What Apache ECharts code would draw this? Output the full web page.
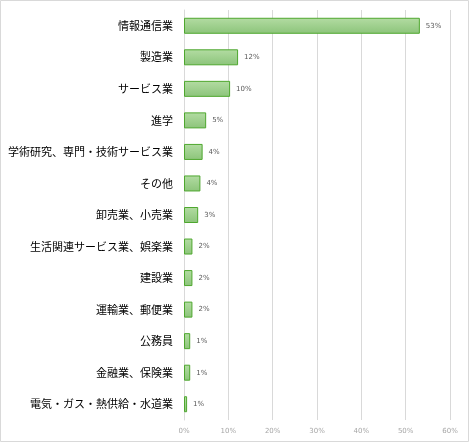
<!DOCTYPE html>
<html>
<head>
<meta charset="utf-8">
<script src="https://cdn.jsdelivr.net/npm/echarts@6/dist/echarts.min.js"></script>
<style>
html,body{margin:0;padding:0;background:#fff;}
#chart{width:469px;height:442px;}
</style>
</head>
<body>
<div id="chart"></div>
<script>
const categories = ['情報通信業','製造業','サービス業','進学','学術研究、専門・技術サービス業','その他','卸売業、小売業','生活関連サービス業、娯楽業','建設業','運輸業、郵便業','公務員','金融業、保険業','電気・ガス・熱供給・水道業'];
const values = [53.2, 12.2, 10.4, 5.0, 4.2, 3.7, 3.2, 1.9, 1.9, 1.9, 1.4, 1.4, 0.7];
const valueLabels = ['53%','12%','10%','5%','4%','4%','3%','2%','2%','2%','1%','1%','1%'];
const xTicks = [0, 10, 20, 30, 40, 50, 60];

const chart = echarts.init(document.getElementById('chart'), null, {renderer: 'canvas'});
chart.setOption({
  animation: false,
  backgroundColor: '#fff',
  graphic: [{
    type: 'rect', silent: true, z: -1,
    shape: {x: 0.5, y: 0.5, width: 468, height: 441},
    style: {fill: 'none', stroke: '#d9d9d9', lineWidth: 1}
  }],
  grid: {left: 184, right: 19, top: 10, bottom: 22, containLabel: false},
  xAxis: {
    type: 'value',
    min: xTicks[0], max: xTicks[xTicks.length - 1], interval: 10,
    axisLine: {show: false},
    axisTick: {show: false},
    splitLine: {show: true, lineStyle: {color: '#d9d9d9', width: 1}},
    axisLabel: {formatter: '{value}%', fontSize: 7, color: '#a6a6a6', margin: 8, fontFamily: 'DejaVu Sans'}
  },
  yAxis: {
    type: 'category',
    inverse: true,
    data: categories,
    axisLine: {show: true, lineStyle: {color: '#d9d9d9'}},
    axisTick: {show: false},
    axisLabel: {fontSize: 11, color: '#000', margin: 11, fontFamily: 'Noto Sans CJK JP'}
  },
  series: [{
    type: 'bar',
    data: values,
    barWidth: 16,
    itemStyle: {
      color: new echarts.graphic.LinearGradient(0, 0, 0, 1, [
        {offset: 0, color: '#b3dca3'},
        {offset: 1, color: '#8cc47a'}
      ]),
      borderColor: '#4ea72e',
      borderWidth: 1
    },
    label: {
      show: true,
      position: 'right',
      distance: 6,
      fontSize: 7,
      color: '#595959',
      fontFamily: 'DejaVu Sans',
      formatter: p => valueLabels[p.dataIndex]
    }
  }]
});
</script>
</body>
</html>
